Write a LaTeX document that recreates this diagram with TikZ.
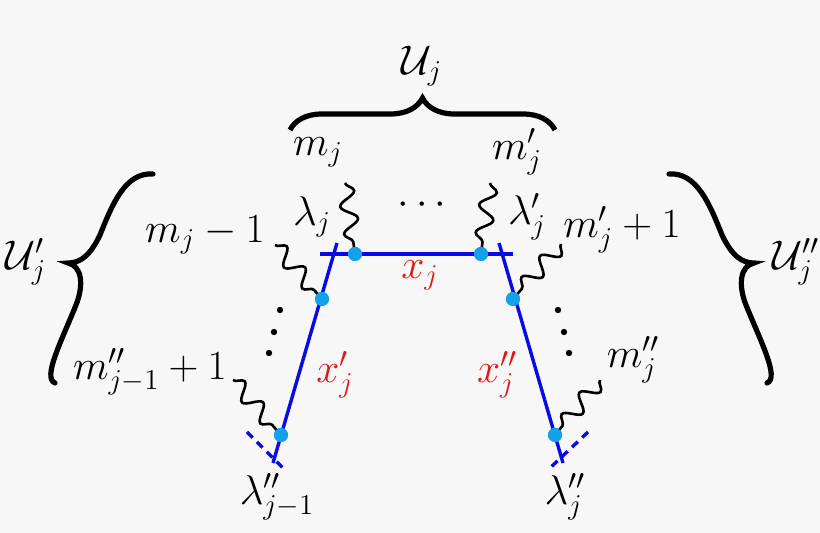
\documentclass[tikz,border=0pt]{standalone}
\usetikzlibrary{decorations.pathmorphing,decorations.pathreplacing}
\begin{document}
\begin{tikzpicture}[x=0.5pt,y=-0.5pt,font=\fontsize{19.5}{22}\selectfont,
  bl/.style={draw={rgb,255:red,10;green,10;blue,230},line width=1.7pt},
  wv/.style={draw=black,line width=1.3pt,decorate,decoration={snake,amplitude=4pt,segment length=14pt}},
  pt/.style={circle,fill={rgb,255:red,20;green,160;blue,235},inner sep=0pt,minimum size=7pt},
  br/.style={draw=black,line width=2.6pt,decorate,decoration={brace,amplitude=#1}},
  sbr/.style={draw=black,line width=2.6pt,line cap=round},
  rd/.style={text={rgb,255:red,230;green,20;blue,20}}]
\useasboundingbox[fill={rgb,255:red,247;green,247;blue,247}] (0,0) rectangle (820,533);
% lines
\coordinate (hl) at (320,254); \coordinate (hr) at (513,254);
\coordinate (lt) at (337,243); \coordinate (lb) at (273,463);
\coordinate (rt) at (499,243); \coordinate (rb) at (563,463);
\draw[bl] (hl) -- (hr);
\draw[bl] (lt) -- (lb);
\draw[bl] (rt) -- (rb);
\coordinate (dl1) at (247,432); \coordinate (dl2) at (285,470);
\coordinate (dr1) at (588,432); \coordinate (dr2) at (550,468);
\draw[bl,dashed,dash pattern=on 4pt off 3pt] (dl1) -- (dl2);
\draw[bl,dashed,dash pattern=on 4pt off 3pt] (dr1) -- (dr2);
% wavy
\coordinate (w1) at (345,183); \coordinate (w2) at (490,183);
\coordinate (w3) at (275,245); \coordinate (w4) at (561,244);
\coordinate (w5) at (233,380); \coordinate (w6) at (600,380);
\node[pt] (p1) at (355,254) {}; \node[pt] (p2) at (481,254) {};
\node[pt] (p3) at (322,299) {}; \node[pt] (p4) at (513,299) {};
\node[pt] (p5) at (281,435) {}; \node[pt] (p6) at (555,435) {};
\draw[wv] (w1) -- (p1.center); \draw[wv] (w2) -- (p2.center);
\draw[wv] (w3) -- (p3.center); \draw[wv] (w4) -- (p4.center);
\draw[wv] (w5) -- (p5.center); \draw[wv] (w6) -- (p6.center);
\node[pt] at (355,254) {}; \node[pt] at (481,254) {};
\node[pt] at (322,299) {}; \node[pt] at (513,299) {};
\node[pt] at (281,435) {}; \node[pt] at (555,435) {};
% braces
\coordinate (b1) at (290,130); \coordinate (b2) at (555,130);
\draw[br=16pt] (b1) -- (b2);
\draw[sbr] (153,174) .. controls (125,172) and (112,205) .. (100,235)
  .. controls (90,256) and (80,263) .. (68,263)
  .. controls (82,266) and (84,285) .. (76,305)
  .. controls (62,340) and (42,378) .. (55,383);
\begin{scope}[shift={(822,0)},xscale=-1]
\draw[sbr] (153,174) .. controls (125,172) and (112,205) .. (100,235)
  .. controls (90,256) and (80,263) .. (68,263)
  .. controls (82,266) and (84,285) .. (76,305)
  .. controls (62,340) and (42,378) .. (55,383);
\end{scope}
% labels
\node (Uj) at (422,66) {$\mathcal{U}_j$};
\node (U1) at (26,262) {$\mathcal{U}'_j$};
\node (U2) at (796,262) {$\mathcal{U}''_j$};
\node (mj) at (318,152) {$m_j$};
\node (mpj) at (517,152) {$m'_j$};
\node (cd) at (422,205) {$\cdots$};
\node (lj) at (312,217) {$\lambda_j$};
\node (lpj) at (527,217) {$\lambda'_j$};
\node (mj1) at (205,235) {$m_j-1$};
\node (mpj1) at (622,230) {$m'_j+1$};
\node[rd] (xj) at (420,275) {$x_j$};
\node[rd] (xpj) at (335,375) {$x'_j$};
\node[rd] (xppj) at (497,375) {$x''_j$};
\node (mpp1) at (150,372) {$m''_{j-1}+1$};
\node (mpp) at (633,360) {$m''_j$};
\node (lpp1) at (277,497) {$\lambda''_{j-1}$};
\node (lpp) at (565,497) {$\lambda''_j$};
\foreach \a/\b in {280/310,274/332,269/353,558/310,564/332,569/353}
  \fill (\a,\b) circle (1.6pt);
\end{tikzpicture}
\end{document}
